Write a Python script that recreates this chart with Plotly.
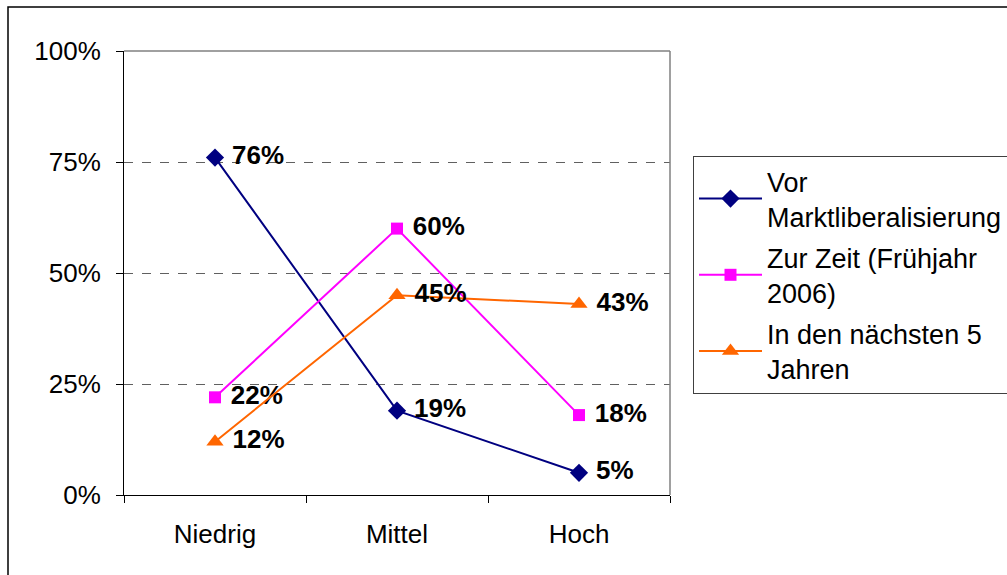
import plotly.graph_objects as go

categories = ["Niedrig", "Mittel", "Hoch"]
vor = [76, 19, 5]
zur = [22, 60, 18]
naechste = [12, 45, 43]
series_names = ["Vor<br>Marktliberalisierung", "Zur Zeit (Frühjahr<br>2006)", "In den nächsten 5<br>Jahren"]
y_ticks = [0, 25, 50, 75, 100]
y_tick_text = [f"{v}%" for v in y_ticks]

W, H = 1007, 575
L, R, T, B = 124, 1007 - 670, 51, 575 - 495
pw, ph = W - L - R, H - T - B

FONT = "Liberation Sans, Arial, sans-serif"
FS = 26

fig = go.Figure()
styles = [
    (vor, "#000080", "diamond", 14),
    (zur, "#FF00FF", "square", 12),
    (naechste, "#FF6600", "triangle-up", 15),
]
for i, ((vals, color, sym, ms), name) in enumerate(zip(styles, series_names)):
    fig.add_trace(go.Scatter(
        x=categories, y=vals, name=name, legendgroup=f"g{i}",
        mode="lines+markers+text",
        line=dict(color=color, width=2),
        marker=dict(symbol=sym, size=ms, color=color),
        text=[f"&nbsp;<b>{v}%</b>" for v in vals],
        textposition="middle right",
        textfont=dict(family=FONT, size=FS, color="black"),
        cliponaxis=False,
    ))

def px_x(X):
    return (X - L) / pw

def px_y(Y):
    return (H - B - Y) / ph

fig.update_layout(
    width=W, height=H,
    margin=dict(l=L, r=R, t=T, b=B, autoexpand=False),
    paper_bgcolor="white", plot_bgcolor="white",
    font=dict(family=FONT, size=FS, color="black"),
    showlegend=True,
    legend=dict(
        x=px_x(693), y=px_y(156), xanchor="left", yanchor="top",
        bordercolor="#404040", borderwidth=1, bgcolor="white",
        font=dict(family=FONT, size=27, color="black"),
        itemwidth=63, tracegroupgap=3,
    ),
    xaxis=dict(
        type="category", range=[-0.5, 2.5],
        showline=True, linecolor="black", linewidth=1,
        ticks="outside", ticklen=7, tickcolor="black", tickson="boundaries",
        showgrid=False, zeroline=False,
        ticklabelstandoff=16,
    ),
    yaxis=dict(
        range=[0, 100], tickvals=y_ticks, ticktext=y_tick_text,
        showline=True, linecolor="black", linewidth=1,
        ticks="outside", ticklen=7, tickcolor="black",
        showgrid=True, gridcolor="#606060", griddash="dash", gridwidth=1,
        zeroline=False,
        ticklabelstandoff=10,
    ),
    shapes=[
        dict(type="line", xref="paper", yref="paper", x0=0, x1=1, y0=1, y1=1,
             line=dict(color="#808080", width=1.5)),
        dict(type="line", xref="paper", yref="paper", x0=1, x1=1, y0=0, y1=1,
             line=dict(color="#808080", width=1.5)),
        dict(type="rect", xref="paper", yref="paper",
             x0=px_x(8), x1=px_x(1020), y0=px_y(7), y1=px_y(590),
             line=dict(color="black", width=1.5), layer="below"),
    ],
)

fig.write_html("out.html")
